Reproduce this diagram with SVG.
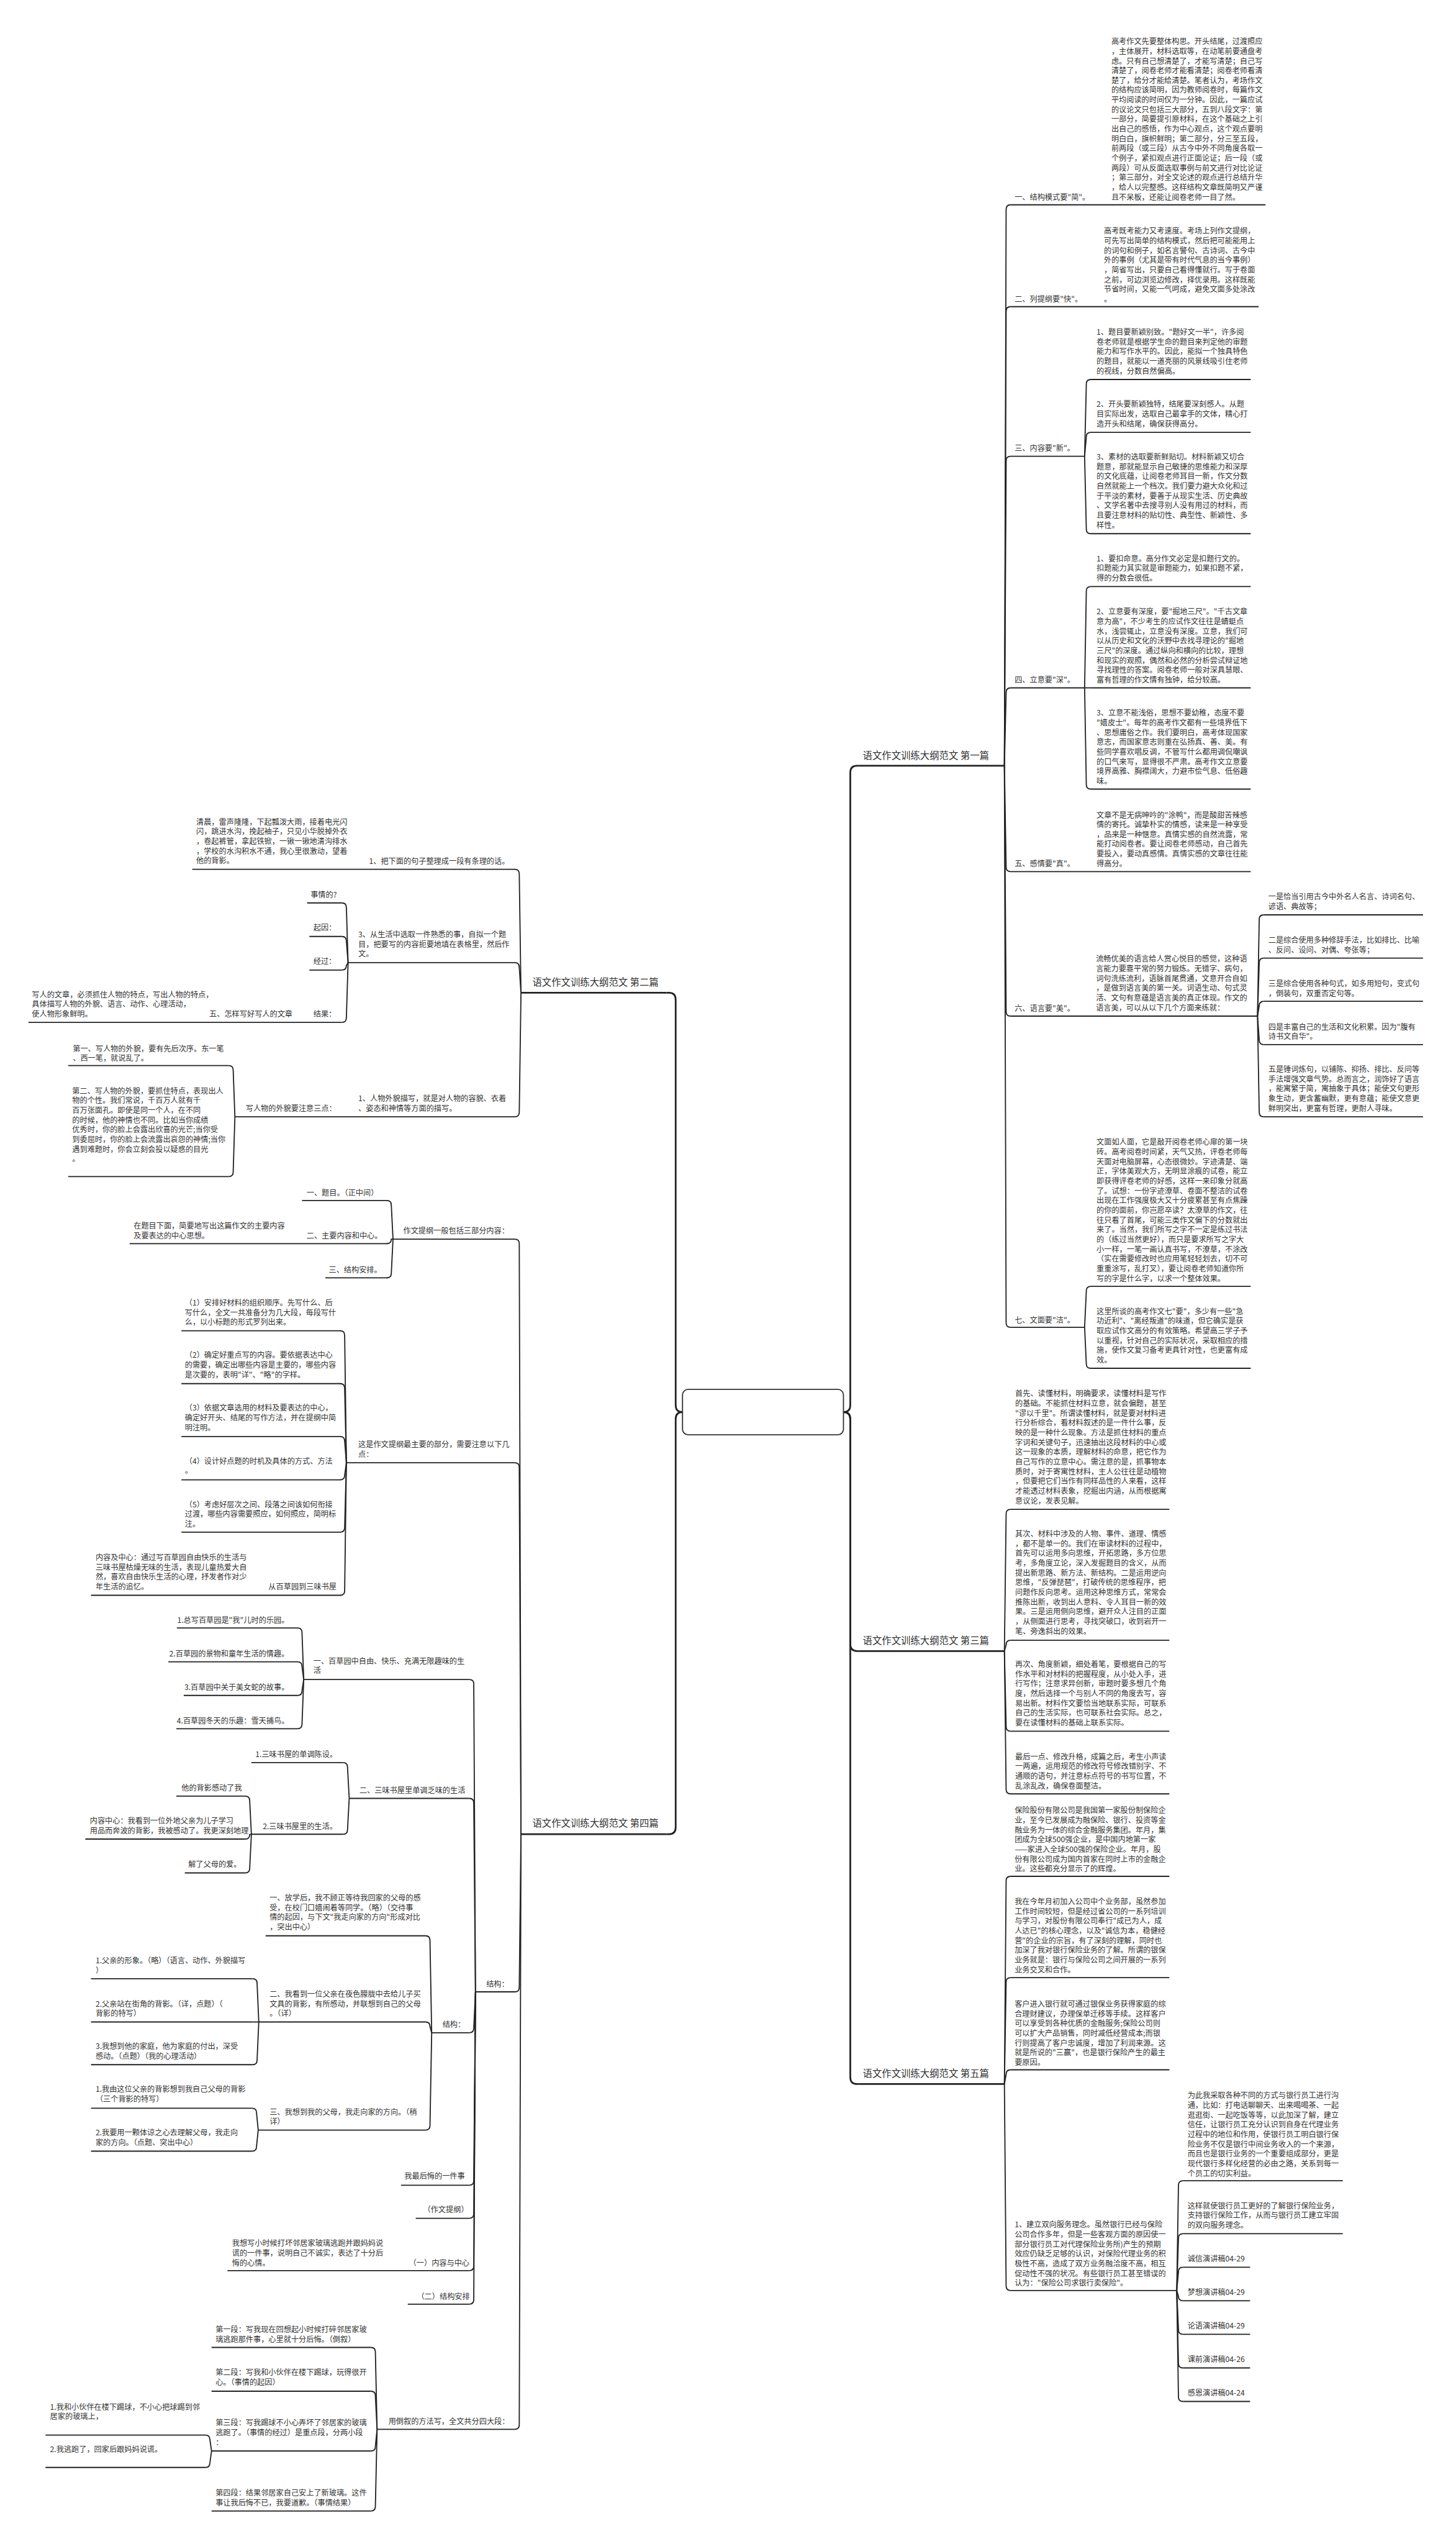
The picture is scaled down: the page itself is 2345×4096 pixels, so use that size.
<svg xmlns="http://www.w3.org/2000/svg" width="2345" height="4096" viewBox="0 0 2345 4096">
<style>
.t{font-family:"Noto Sans CJK SC","Liberation Sans",sans-serif;font-size:13.3px;fill:#333}
.h{font-size:16.8px}
.e{text-anchor:end}
.c{fill:none;stroke:#222;stroke-width:2}
.m{stroke-width:3}
</style>
<rect width="2345" height="4096" fill="#fff"/>
<g transform="scale(0.91602)">
<g id="connectors">
<path class="c m" d="M1483 2482 Q1495 2482 1495 2470 V1358 Q1495 1346 1507 1346 H1510"/>
<path class="c m" d="M1483 2482 Q1495 2482 1495 2494 V2890 Q1495 2902 1507 2902 H1510"/>
<path class="c m" d="M1483 2482 Q1495 2482 1495 2494 V3651 Q1495 3663 1507 3663 H1510"/>
<path class="c m" d="M1200 2482 Q1188 2482 1188 2470 V1757 Q1188 1745 1176 1745 H1172"/>
<path class="c m" d="M1200 2482 Q1188 2482 1188 2494 V3212 Q1188 3224 1176 3224 H1172"/>
<path class="c" d="M1766 1346 L1769 368 Q1769 360 1777 360"/>
<path class="c" d="M1766 1346 L1769 547 Q1769 539 1777 539"/>
<path class="c" d="M1766 1346 L1769 810 Q1769 802 1777 802"/>
<path class="c" d="M1766 1346 L1769 1217 Q1769 1209 1777 1209"/>
<path class="c" d="M1766 1346 L1769 1524 Q1769 1532 1777 1532"/>
<path class="c" d="M1766 1346 L1769 1778 Q1769 1786 1777 1786"/>
<path class="c" d="M1766 1346 L1769 2325 Q1769 2333 1777 2333"/>
<path class="c" d="M1907 802 L1910 675 Q1910 667 1918 667"/>
<path class="c" d="M1907 802 L1910 768 Q1910 760 1918 760"/>
<path class="c" d="M1907 802 L1910 930 Q1910 938 1918 938"/>
<path class="c" d="M1907 1209 L1910 1039 Q1910 1031 1918 1031"/>
<path class="c" d="M1907 1209 H1918"/>
<path class="c" d="M1907 1209 L1910 1379 Q1910 1387 1918 1387"/>
<path class="c" d="M2211 1786 L2214 1616 Q2214 1608 2222 1608"/>
<path class="c" d="M2211 1786 L2214 1692 Q2214 1684 2222 1684"/>
<path class="c" d="M2211 1786 L2214 1768 Q2214 1760 2222 1760"/>
<path class="c" d="M2211 1786 L2214 1828 Q2214 1836 2222 1836"/>
<path class="c" d="M2211 1786 L2214 1955 Q2214 1963 2222 1963"/>
<path class="c" d="M1907 2333 L1910 2269 Q1910 2261 1918 2261"/>
<path class="c" d="M1907 2333 L1910 2397 Q1910 2405 1918 2405"/>
<path class="c" d="M1766 2902 L1769 2661 Q1769 2653 1777 2653"/>
<path class="c" d="M1766 2902 L1769 2891 Q1769 2883 1777 2883"/>
<path class="c" d="M1766 2902 L1769 3035 Q1769 3043 1777 3043"/>
<path class="c" d="M1766 2902 L1769 3145 Q1769 3153 1777 3153"/>
<path class="c" d="M1766 3663 L1769 3306 Q1769 3298 1777 3298"/>
<path class="c" d="M1766 3663 L1769 3484 Q1769 3476 1777 3476"/>
<path class="c" d="M1766 3663 L1769 3646 Q1769 3638 1777 3638"/>
<path class="c" d="M1766 3663 L1769 4018 Q1769 4026 1777 4026"/>
<path class="c" d="M2069 4026 L2072 3841 Q2072 3833 2080 3833"/>
<path class="c" d="M2069 4026 L2072 3934 Q2072 3926 2080 3926"/>
<path class="c" d="M2069 4026 L2072 3993 Q2072 3985 2080 3985"/>
<path class="c" d="M2069 4026 L2072 4036 Q2072 4044 2080 4044"/>
<path class="c" d="M2069 4026 L2072 4095 Q2072 4103 2080 4103"/>
<path class="c" d="M2069 4026 L2072 4154 Q2072 4162 2080 4162"/>
<path class="c" d="M2069 4026 L2072 4213 Q2072 4221 2080 4221"/>
<path class="c" d="M916 1745 L913 1536 Q913 1528 905 1528"/>
<path class="c" d="M916 1745 L913 1700 Q913 1692 905 1692"/>
<path class="c" d="M916 1745 L913 1955 Q913 1963 905 1963"/>
<path class="c" d="M612 1692 L609 1595 Q609 1587 601 1587"/>
<path class="c" d="M612 1692 L609 1654 Q609 1646 601 1646"/>
<path class="c" d="M612 1692 L609 1697 Q609 1705 601 1705"/>
<path class="c" d="M612 1692 L609 1789 Q609 1797 601 1797"/>
<path class="c" d="M413 1963 L410 1881 Q410 1873 402 1873"/>
<path class="c" d="M413 1963 L410 2060 Q410 2068 402 2068"/>
<path class="c" d="M916 3224 L913 2186 Q913 2178 905 2178"/>
<path class="c" d="M916 3224 L913 2579 Q913 2571 905 2571"/>
<path class="c" d="M916 3224 L913 3493 Q913 3501 905 3501"/>
<path class="c" d="M916 3224 L913 4262 Q913 4270 905 4270"/>
<path class="c" d="M691 2178 L688 2118 Q688 2110 680 2110"/>
<path class="c" d="M691 2178 L688 2178 Q688 2186 680 2186"/>
<path class="c" d="M691 2178 L688 2238 Q688 2246 680 2246"/>
<path class="c" d="M609 2571 L606 2347 Q606 2339 598 2339"/>
<path class="c" d="M609 2571 L606 2440 Q606 2432 598 2432"/>
<path class="c" d="M609 2571 L606 2533 Q606 2525 598 2525"/>
<path class="c" d="M609 2571 L606 2593 Q606 2601 598 2601"/>
<path class="c" d="M609 2571 L606 2685 Q606 2693 598 2693"/>
<path class="c" d="M609 2571 L606 2796 Q606 2804 598 2804"/>
<path class="c" d="M836 3501 L833 2960 Q833 2952 825 2952"/>
<path class="c" d="M836 3501 L833 3169 Q833 3161 825 3161"/>
<path class="c" d="M836 3501 L833 3565 Q833 3573 825 3573"/>
<path class="c" d="M836 3501 L833 3833 Q833 3841 825 3841"/>
<path class="c" d="M836 3501 L833 3891 Q833 3899 825 3899"/>
<path class="c" d="M836 3501 L833 3983 Q833 3991 825 3991"/>
<path class="c" d="M836 3501 L833 4042 Q833 4050 825 4050"/>
<path class="c" d="M534 2952 L531 2869.5 Q531 2861.5 523 2861.5"/>
<path class="c" d="M534 2952 L531 2929 Q531 2921 523 2921"/>
<path class="c" d="M534 2952 L531 2972 Q531 2980 523 2980"/>
<path class="c" d="M534 2952 L531 3030.5 Q531 3038.5 523 3038.5"/>
<path class="c" d="M614 3161 L611 3106 Q611 3098 603 3098"/>
<path class="c" d="M614 3161 L611 3216 Q611 3224 603 3224"/>
<path class="c" d="M442 3224 L439 3165 Q439 3157 431 3157"/>
<path class="c" d="M442 3224 L439 3224.5 Q439 3232.5 431 3232.5"/>
<path class="c" d="M442 3224 L439 3284 Q439 3292 431 3292"/>
<path class="c" d="M759 3573 L756 3410.5 Q756 3402.5 748 3402.5"/>
<path class="c" d="M759 3573 L756 3562 Q756 3554 748 3554"/>
<path class="c" d="M759 3573 L756 3736 Q756 3744 748 3744"/>
<path class="c" d="M455 3554 L452 3486 Q452 3478 444 3478"/>
<path class="c" d="M455 3554 H444"/>
<path class="c" d="M455 3554 L452 3621 Q452 3629 444 3629"/>
<path class="c" d="M454 3744 L451 3713.5 Q451 3705.5 443 3705.5"/>
<path class="c" d="M454 3744 L451 3773 Q451 3781 443 3781"/>
<path class="c" d="M663 4270 L660 4134 Q660 4126 652 4126"/>
<path class="c" d="M663 4270 L660 4211 Q660 4203 652 4203"/>
<path class="c" d="M663 4270 L660 4300 Q660 4308 652 4308"/>
<path class="c" d="M663 4270 L660 4405.5 Q660 4413.5 652 4413.5"/>
<path class="c" d="M372 4308 L369 4288 Q369 4280 361 4280"/>
<path class="c" d="M372 4308 L369 4329 Q369 4337 361 4337"/>
</g>

<g id="center"><rect x="1200" y="2442" width="283" height="80" rx="10" fill="#fff" stroke="#333" stroke-width="2"/></g>

<g id="p1">
<path class="c m" d="M1510 1346 H1766"/>
<text class="t h" x="1517" y="1334">语文作文训练大纲范文 第一篇</text>
</g>
<g id="p1-1">
<path class="c" d="M1777 360 H2225"/>
<text class="t" x="1784" y="352">一、结构模式要"简"。</text>
<text class="t"><tspan x="1954" y="77.7">高考作文先要整体构思。开头结尾，过渡照应</tspan><tspan x="1954" dy="17.1">，主体展开，材料选取等，在动笔前要通盘考</tspan><tspan x="1954" dy="17.1">虑。只有自己想清楚了，才能写清楚；自己写</tspan><tspan x="1954" dy="17.1">清楚了，阅卷老师才能看清楚；阅卷老师看清</tspan><tspan x="1954" dy="17.1">楚了，给分才能给清楚。笔者认为，考场作文</tspan><tspan x="1954" dy="17.1">的结构应该简明，因为教师阅卷时，每篇作文</tspan><tspan x="1954" dy="17.1">平均阅读的时间仅为一分钟。因此，一篇应试</tspan><tspan x="1954" dy="17.1">的议论文只包括三大部分，五到八段文字：第</tspan><tspan x="1954" dy="17.1">一部分，简要提引原材料，在这个基础之上引</tspan><tspan x="1954" dy="17.1">出自己的感悟，作为中心观点，这个观点要明</tspan><tspan x="1954" dy="17.1">明白白，旗帜鲜明；第二部分，分三至五段，</tspan><tspan x="1954" dy="17.1">前两段（或三段）从古今中外不同角度各取一</tspan><tspan x="1954" dy="17.1">个例子，紧扣观点进行正面论证；后一段（或</tspan><tspan x="1954" dy="17.1">两段）可从反面选取事例与前文进行对比论证</tspan><tspan x="1954" dy="17.1">；第三部分，对全文论述的观点进行总结升华</tspan><tspan x="1954" dy="17.1">，给人以完整感。这样结构文章既简明又严谨</tspan><tspan x="1954" dy="17.1">且不呆板，还能让阅卷老师一目了然。</tspan></text>
</g>
<g id="p1-2">
<path class="c" d="M1777 539 H2213"/>
<text class="t" x="1784" y="531">二、列提纲要"快"。</text>
<text class="t"><tspan x="1941" y="411">高考既考能力又考速度。考场上列作文提纲，</tspan><tspan x="1941" dy="17.1">可先写出简单的结构模式，然后把可能能用上</tspan><tspan x="1941" dy="17.1">的词句和例子，如名言警句、古诗词、古今中</tspan><tspan x="1941" dy="17.1">外的事例（尤其是带有时代气息的当今事例）</tspan><tspan x="1941" dy="17.1">，简省写出，只要自己看得懂就行。写于卷面</tspan><tspan x="1941" dy="17.1">之前，可边浏览边修改，择优录用。这样既能</tspan><tspan x="1941" dy="17.1">节省时间，又能一气呵成，避免文面多处涂改</tspan><tspan x="1941" dy="17.1">。</tspan></text>
</g>
<g id="p1-3">
<path class="c" d="M1777 802 H1907"/>
<text class="t" x="1784" y="793">三、内容要"新"。</text>
<path class="c" d="M1918 667 H2199"/>
<text class="t"><tspan x="1928" y="588.3">1、题目要新颖别致。"题好文一半"，许多阅</tspan><tspan x="1928" dy="17.1">卷老师就是根据学生命的题目来判定他的审题</tspan><tspan x="1928" dy="17.1">能力和写作水平的。因此，能拟一个独具特色</tspan><tspan x="1928" dy="17.1">的题目，就能以一道亮丽的风景线吸引住老师</tspan><tspan x="1928" dy="17.1">的视线，分数自然偏高。</tspan></text>
<path class="c" d="M1918 760 H2199"/>
<text class="t"><tspan x="1928" y="715.5">2、开头要新颖独特，结尾要深刻感人。从题</tspan><tspan x="1928" dy="17.1">目实际出发，选取自己最拿手的文体，精心打</tspan><tspan x="1928" dy="17.1">造开头和结尾，确保获得高分。</tspan></text>
<path class="c" d="M1918 938 H2199"/>
<text class="t"><tspan x="1928" y="808">3、素材的选取要新鲜贴切。材料新颖又切合</tspan><tspan x="1928" dy="17.1">题意，那就能显示自己敏捷的思维能力和深厚</tspan><tspan x="1928" dy="17.1">的文化底蕴，让阅卷老师耳目一新，作文分数</tspan><tspan x="1928" dy="17.1">自然就能上一个档次。我们要力避大众化和过</tspan><tspan x="1928" dy="17.1">于平淡的素材，要善于从现实生活、历史典故</tspan><tspan x="1928" dy="17.1">、文学名著中去搜寻别人没有用过的材料，而</tspan><tspan x="1928" dy="17.1">且要注意材料的贴切性、典型性、新颖性、多</tspan><tspan x="1928" dy="17.1">样性。</tspan></text>
</g>
<g id="p1-4">
<path class="c" d="M1777 1209 H1907"/>
<text class="t" x="1784" y="1200">四、立意要"深"。</text>
<path class="c" d="M1918 1031 H2199"/>
<text class="t"><tspan x="1928" y="986.5">1、要扣命意。高分作文必定是扣题行文的。</tspan><tspan x="1928" dy="17.1">扣题能力其实就是审题能力，如果扣题不紧，</tspan><tspan x="1928" dy="17.1">得的分数会很低。</tspan></text>
<path class="c" d="M1918 1209 H2199"/>
<text class="t"><tspan x="1928" y="1080">2、立意要有深度，要"掘地三尺"。"千古文章</tspan><tspan x="1928" dy="17.1">意为高"，不少考生的应试作文往往是蜻蜓点</tspan><tspan x="1928" dy="17.1">水，浅尝辄止，立意没有深度。立意，我们可</tspan><tspan x="1928" dy="17.1">以从历史和文化的沃野中去找寻理论的"掘地</tspan><tspan x="1928" dy="17.1">三尺"的深度。通过纵向和横向的比较，理想</tspan><tspan x="1928" dy="17.1">和现实的观照，偶然和必然的分析尝试辩证地</tspan><tspan x="1928" dy="17.1">寻找理性的答案。阅卷老师一般对深具慧眼、</tspan><tspan x="1928" dy="17.1">富有哲理的作文情有独钟，给分较高。</tspan></text>
<path class="c" d="M1918 1387 H2199"/>
<text class="t"><tspan x="1928" y="1258">3、立意不能浅俗，思想不要幼稚，态度不要</tspan><tspan x="1928" dy="17.1">"嬉皮士"。每年的高考作文都有一些境界低下</tspan><tspan x="1928" dy="17.1">、思想庸俗之作。我们要明白，高考体现国家</tspan><tspan x="1928" dy="17.1">意志，而国家意志则重在弘扬真、善、美。有</tspan><tspan x="1928" dy="17.1">些同学喜欢唱反调，不管写什么都用调侃嘲讽</tspan><tspan x="1928" dy="17.1">的口气来写，显得很不严肃。高考作文立意要</tspan><tspan x="1928" dy="17.1">境界高雅、胸襟阔大，力避市侩气息、低俗趣</tspan><tspan x="1928" dy="17.1">味。</tspan></text>
</g>
<g id="p1-5">
<path class="c" d="M1777 1532 H2199"/>
<text class="t" x="1784" y="1523">五、感情要"真"。</text>
<text class="t"><tspan x="1928" y="1437.2">文章不是无病呻吟的"涂鸭"，而是酸甜苦辣感</tspan><tspan x="1928" dy="17.1">情的寄托。诚挚朴实的情感，读来是一种享受</tspan><tspan x="1928" dy="17.1">，品来是一种惬意。真情实感的自然流露，常</tspan><tspan x="1928" dy="17.1">能打动阅卷者。要让阅卷老师感动，自己首先</tspan><tspan x="1928" dy="17.1">要投入，要动真感情。真情实感的文章往往能</tspan><tspan x="1928" dy="17.1">得高分。</tspan></text>
</g>
<g id="p1-6">
<path class="c" d="M1777 1786 H2211"/>
<text class="t" x="1784" y="1777">六、语言要"美"。</text>
<text class="t"><tspan x="1927" y="1690.2">流畅优美的语言给人赏心悦目的感觉，这种语</tspan><tspan x="1927" dy="17.1">言能力要靠平常的努力锻炼。无错字、病句，</tspan><tspan x="1927" dy="17.1">词句洗练流利，语脉首尾贯通，文意开合自如</tspan><tspan x="1927" dy="17.1">，是做到语言美的第一关。词语生动、句式灵</tspan><tspan x="1927" dy="17.1">活、文句有意蕴是语言美的真正体现。作文的</tspan><tspan x="1927" dy="17.1">语言美，可以从以下几个方面来练就：</tspan></text>
<path class="c" d="M2222 1608 H2502"/>
<text class="t"><tspan x="2230" y="1580.6">一是恰当引用古今中外名人名言、诗词名句、</tspan><tspan x="2230" dy="17.1">谚语、典故等；</tspan></text>
<path class="c" d="M2222 1684 H2502"/>
<text class="t"><tspan x="2230" y="1657.6">二是综合使用多种修辞手法，比如排比、比喻</tspan><tspan x="2230" dy="17.1">、反问、设问、对偶、夸张等；</tspan></text>
<path class="c" d="M2222 1760 H2502"/>
<text class="t"><tspan x="2230" y="1733.6">三是综合使用各种句式，如多用短句，变式句</tspan><tspan x="2230" dy="17.1">，倒装句，双重否定句等。</tspan></text>
<path class="c" d="M2222 1836 H2502"/>
<text class="t"><tspan x="2230" y="1809.6">四是丰富自己的生活和文化积累。因为"腹有</tspan><tspan x="2230" dy="17.1">诗书文自华"。</tspan></text>
<path class="c" d="M2222 1963 H2502"/>
<text class="t"><tspan x="2230" y="1884.3">五是锤词炼句，以铺陈、抑扬、排比、反问等</tspan><tspan x="2230" dy="17.1">手法增强文章气势。总而言之，润饰好了语言</tspan><tspan x="2230" dy="17.1">，能寓繁于简，寓抽象于具体；能使文句更形</tspan><tspan x="2230" dy="17.1">象生动，更含蓄幽默，更有意蕴；能使文意更</tspan><tspan x="2230" dy="17.1">鲜明突出，更富有哲理，更耐人寻味。</tspan></text>
</g>
<g id="p1-7">
<path class="c" d="M1777 2333 H1907"/>
<text class="t" x="1784" y="2325">七、文面要"洁"。</text>
<path class="c" d="M1918 2261 H2199"/>
<text class="t"><tspan x="1928" y="2012.3">文面如人面，它是敲开阅卷老师心扉的第一块</tspan><tspan x="1928" dy="17.1">砖。高考阅卷时间紧，天气又热，评卷老师每</tspan><tspan x="1928" dy="17.1">天面对电脑屏幕，心态很微妙。字迹清楚、端</tspan><tspan x="1928" dy="17.1">正，字体美观大方，无明显涂痕的试卷，能立</tspan><tspan x="1928" dy="17.1">即获得评卷老师的好感，这样一来印象分就高</tspan><tspan x="1928" dy="17.1">了。试想：一份字迹潦草、卷面不整洁的试卷</tspan><tspan x="1928" dy="17.1">出现在工作强度极大又十分疲累甚至有点焦躁</tspan><tspan x="1928" dy="17.1">的你的面前，你岂愿卒读？太潦草的作文，往</tspan><tspan x="1928" dy="17.1">往只看了首尾，可能三类作文偏下的分数就出</tspan><tspan x="1928" dy="17.1">来了。当然，我们所写之字不一定是练过书法</tspan><tspan x="1928" dy="17.1">的（练过当然更好），而只是要求所写之字大</tspan><tspan x="1928" dy="17.1">小一样，一笔一画认真书写，不潦草，不涂改</tspan><tspan x="1928" dy="17.1">（实在需要修改时也应用笔轻轻划去，切不可</tspan><tspan x="1928" dy="17.1">重重涂写，乱打叉），要让阅卷老师知道你所</tspan><tspan x="1928" dy="17.1">写的字是什么字，以求一个整体效果。</tspan></text>
<path class="c" d="M1918 2405 H2199"/>
<text class="t"><tspan x="1928" y="2309.7">这里所谈的高考作文七"要"，多少有一些"急</tspan><tspan x="1928" dy="17.1">功近利"、"离经叛道"的味道，但它确实是获</tspan><tspan x="1928" dy="17.1">取应试作文高分的有效策略。希望高三学子予</tspan><tspan x="1928" dy="17.1">以重视，针对自己的实际状况，采取相应的措</tspan><tspan x="1928" dy="17.1">施，使作文复习备考更具针对性，也更富有成</tspan><tspan x="1928" dy="17.1">效。</tspan></text>
</g>

<g id="p3">
<path class="c m" d="M1510 2902 H1766"/>
<text class="t h" x="1517" y="2890">语文作文训练大纲范文 第三篇</text>
<path class="c" d="M1777 2653 H2056"/>
<text class="t"><tspan x="1785" y="2454.6">首先、读懂材料，明确要求，读懂材料是写作</tspan><tspan x="1785" dy="17.1">的基础。不能抓住材料立意，就会偏题，甚至</tspan><tspan x="1785" dy="17.1">"谬以千里"。所谓读懂材料，就是要对材料进</tspan><tspan x="1785" dy="17.1">行分析综合，看材料叙述的是一件什么事，反</tspan><tspan x="1785" dy="17.1">映的是一种什么现象。方法是抓住材料的重点</tspan><tspan x="1785" dy="17.1">字词和关键句子，迅速抽出这段材料的中心或</tspan><tspan x="1785" dy="17.1">这一现象的本质，理解材料的命意，把它作为</tspan><tspan x="1785" dy="17.1">自己写作的立意中心。需注意的是，抓事物本</tspan><tspan x="1785" dy="17.1">质时，对于寄寓性材料，主人公往往是动植物</tspan><tspan x="1785" dy="17.1">，但要把它们当作有同样品性的人来看，这样</tspan><tspan x="1785" dy="17.1">才能透过材料表象，挖掘出内涵，从而根据寓</tspan><tspan x="1785" dy="17.1">意议论，发表见解。</tspan></text>
<path class="c" d="M1777 2883 H2056"/>
<text class="t"><tspan x="1785" y="2700.7">其次、材料中涉及的人物、事件、道理、情感</tspan><tspan x="1785" dy="17.1">，都不是单一的。我们在审读材料的过程中，</tspan><tspan x="1785" dy="17.1">首先可以运用多向思维，开拓思路，多方位思</tspan><tspan x="1785" dy="17.1">考，多角度立论，深入发掘题目的含义，从而</tspan><tspan x="1785" dy="17.1">提出新思路、新方法、新结构。二是运用逆向</tspan><tspan x="1785" dy="17.1">思维，"反弹琵琶"，打破传统的思维程序，把</tspan><tspan x="1785" dy="17.1">问题作反向思考。运用这种思维方式，常常会</tspan><tspan x="1785" dy="17.1">推陈出新，收到出人意料、令人耳目一新的效</tspan><tspan x="1785" dy="17.1">果。三是运用侧向思维，避开众人注目的正面</tspan><tspan x="1785" dy="17.1">，从侧面进行思考，寻找突破口，收到岩开一</tspan><tspan x="1785" dy="17.1">笔、旁逸斜出的效果。</tspan></text>
<path class="c" d="M1777 3043 H2056"/>
<text class="t"><tspan x="1785" y="2930.1">再次、角度新颖，细处着笔，要根据自己的写</tspan><tspan x="1785" dy="17.1">作水平和对材料的把握程度，从小处入手，进</tspan><tspan x="1785" dy="17.1">行写作；注意求异创新，审题时要多想几个角</tspan><tspan x="1785" dy="17.1">度，然后选择一个与别人不同的角度去写，容</tspan><tspan x="1785" dy="17.1">易出新。材料作文要恰当地联系实际，可联系</tspan><tspan x="1785" dy="17.1">自己的生活实际，也可联系社会实际。总之，</tspan><tspan x="1785" dy="17.1">要在读懂材料的基础上联系实际。</tspan></text>
<path class="c" d="M1777 3153 H2056"/>
<text class="t"><tspan x="1785" y="3092.4">最后一点、修改升格，成篇之后，考生小声读</tspan><tspan x="1785" dy="17.1">一两遍，运用规范的修改符号修改错别字、不</tspan><tspan x="1785" dy="17.1">通顺的语句，并注意标点符号的书写位置，不</tspan><tspan x="1785" dy="17.1">乱涂乱改，确保卷面整洁。</tspan></text>
</g>

<g id="p5">
<path class="c m" d="M1510 3663 H1766"/>
<text class="t h" x="1517" y="3651">语文作文训练大纲范文 第五篇</text>
<path class="c" d="M1777 3298 H2056"/>
<text class="t"><tspan x="1784" y="3187.1">保险股份有限公司是我国第一家股份制保险企</tspan><tspan x="1784" dy="17.1">业，至今已发展成为融保险、银行、投资等金</tspan><tspan x="1784" dy="17.1">融业务为一体的综合金融服务集团。年月，集</tspan><tspan x="1784" dy="17.1">团成为全球500强企业，是中国内地第一家</tspan><tspan x="1784" dy="17.1">——家进入全球500强的保险企业。年月，股</tspan><tspan x="1784" dy="17.1">份有限公司成为国内首家在同时上市的金融企</tspan><tspan x="1784" dy="17.1">业。这些都充分显示了的辉煌。</tspan></text>
<path class="c" d="M1777 3476 H2056"/>
<text class="t"><tspan x="1784" y="3347">我在今年月初加入公司中个业务部，虽然参加</tspan><tspan x="1784" dy="17.1">工作时间较短，但是经过省公司的一系列培训</tspan><tspan x="1784" dy="17.1">与学习，对股份有限公司奉行"成已为人，成</tspan><tspan x="1784" dy="17.1">人达已"的核心理念，以及"诚信为本，稳健经</tspan><tspan x="1784" dy="17.1">营"的企业的宗旨，有了深刻的理解，同时也</tspan><tspan x="1784" dy="17.1">加深了我对银行保险业务的了解。所谓的银保</tspan><tspan x="1784" dy="17.1">业务就是：银行与保险公司之间开展的一系列</tspan><tspan x="1784" dy="17.1">业务交叉和合作。</tspan></text>
<path class="c" d="M1777 3638 H2056"/>
<text class="t"><tspan x="1784" y="3527.1">客户进入银行就可通过银保业务获得家庭的综</tspan><tspan x="1784" dy="17.1">合理财建议，办理保单迁移等手续。这样客户</tspan><tspan x="1784" dy="17.1">可以享受到各种优质的金融服务;保险公司则</tspan><tspan x="1784" dy="17.1">可以扩大产品销售，同时减低经营成本;而银</tspan><tspan x="1784" dy="17.1">行则提高了客户忠诚度，增加了利润来源。这</tspan><tspan x="1784" dy="17.1">就是所说的"三赢"，也是银行保险产生的最主</tspan><tspan x="1784" dy="17.1">要原因。</tspan></text>
<path class="c" d="M1777 4026 H2069"/>
<text class="t"><tspan x="1784" y="3915.1">1、建立双向服务理念。虽然银行已经与保险</tspan><tspan x="1784" dy="17.1">公司合作多年，但是一些客观方面的原因使一</tspan><tspan x="1784" dy="17.1">部分银行员工对代理保险业务所)产生的预期</tspan><tspan x="1784" dy="17.1">效应仍缺乏足够的认识，对保险代理业务的积</tspan><tspan x="1784" dy="17.1">极性不高，造成了双方业务融洽度不高，相互</tspan><tspan x="1784" dy="17.1">促动性不强的状况。有些银行员工甚至错误的</tspan><tspan x="1784" dy="17.1">认为："保险公司求银行卖保险"。</tspan></text>
<path class="c" d="M2080 3833 H2361"/>
<text class="t"><tspan x="2088" y="3687.9">为此我采取各种不同的方式与银行员工进行沟</tspan><tspan x="2088" dy="17.1">通，比如：打电话聊聊天、出来喝喝茶、一起</tspan><tspan x="2088" dy="17.1">逛逛街、一起吃饭等等，以此加深了解，建立</tspan><tspan x="2088" dy="17.1">信任，让银行员工充分认识到自身在代理业务</tspan><tspan x="2088" dy="17.1">过程中的地位和作用，使银行员工明白银行保</tspan><tspan x="2088" dy="17.1">险业务不仅是银行中间业务收入的一个来源，</tspan><tspan x="2088" dy="17.1">而且也是银行业务的一个重要组成部分，更是</tspan><tspan x="2088" dy="17.1">现代银行多样化经营的必由之路，关系到每一</tspan><tspan x="2088" dy="17.1">个员工的切实利益。</tspan></text>
<path class="c" d="M2080 3926 H2361"/>
<text class="t"><tspan x="2088" y="3881.5">这样就使银行员工更好的了解银行保险业务，</tspan><tspan x="2088" dy="17.1">支持银行保险工作，从而与银行员工建立牢固</tspan><tspan x="2088" dy="17.1">的双向服务理念。</tspan></text>
<path class="c" d="M2080 3985 H2198"/><text class="t" x="2088" y="3975">诚信演讲稿04-29</text>
<path class="c" d="M2080 4044 H2198"/><text class="t" x="2088" y="4034">梦想演讲稿04-29</text>
<path class="c" d="M2080 4103 H2198"/><text class="t" x="2088" y="4093">论语演讲稿04-29</text>
<path class="c" d="M2080 4162 H2198"/><text class="t" x="2088" y="4152">课前演讲稿04-26</text>
<path class="c" d="M2080 4221 H2198"/><text class="t" x="2088" y="4211">感恩演讲稿04-24</text>
</g>

<g id="p2">
<path class="c m" d="M916 1745 H1172"/>
<text class="t h" x="936" y="1732">语文作文训练大纲范文 第二篇</text>
<path class="c" d="M338 1528 H905"/>
<text class="t" x="649" y="1518">1、把下面的句子整理成一段有条理的话。</text>
<text class="t"><tspan x="345" y="1449.3">清晨，雷声隆隆，下起瓢泼大雨，接着电光闪</tspan><tspan x="345" dy="17.1">闪，跳进水沟，挽起袖子，只见小华脱掉外衣</tspan><tspan x="345" dy="17.1">，卷起裤管，拿起铁锨，一锹一锹地清沟排水</tspan><tspan x="345" dy="17.1">，学校的水沟积水不通，我心里很激动，望着</tspan><tspan x="345" dy="17.1">他的背影。</tspan></text>
<path class="c" d="M612 1692 H905"/>
<text class="t"><tspan x="630" y="1647.5">3、从生活中选取一件熟悉的事，自拟一个题</tspan><tspan x="630" dy="17.1">目，把要写的内容扼要地填在表格里，然后作</tspan><tspan x="630" dy="17.1">文。</tspan></text>
<path class="c" d="M540 1587 H601"/><text class="t" x="546" y="1577">事情的?</text>
<path class="c" d="M544 1646 H601"/><text class="t" x="551" y="1635">起因：</text>
<path class="c" d="M544 1705 H601"/><text class="t" x="551" y="1694">经过：</text>
<path class="c" d="M50 1797 H601"/><text class="t" x="551" y="1787">结果：</text>
<text class="t" x="368" y="1787">五、怎样写好写人的文章</text>
<text class="t"><tspan x="56" y="1752.7">写人的文章，必须抓住人物的特点，写出人物的特点，</tspan><tspan x="56" dy="17.1">具体描写人物的外貌、语言、动作、心理活动，</tspan><tspan x="56" dy="17.1">使人物形象鲜明。</tspan></text>
<path class="c" d="M413 1963 H905"/>
<text class="t"><tspan x="630" y="1935.6">1、人物外貌描写，就是对人物的容貌、衣着</tspan><tspan x="630" dy="17.1">、姿态和神情等方面的描写。</tspan></text>
<text class="t" x="432" y="1953">写人物的外貌要注意三点：</text>
<path class="c" d="M120 1873 H402"/>
<text class="t"><tspan x="128" y="1847.9">第一、写人物的外貌，要有先后次序。东一笔</tspan><tspan x="128" dy="17.1">、西一笔，就说乱了。</tspan></text>
<path class="c" d="M120 2068 H402"/>
<text class="t"><tspan x="127" y="1922.2">第二、写人物的外貌，要抓住特点，表现出人</tspan><tspan x="127" dy="17.1">物的个性。我们常说，千百万人就有千</tspan><tspan x="127" dy="17.1">百万张面孔。即使是同一个人，在不同</tspan><tspan x="127" dy="17.1">的时候，他的神情也不同。比如当你成绩</tspan><tspan x="127" dy="17.1">优秀时，你的脸上会露出欣喜的光芒;当你受</tspan><tspan x="127" dy="17.1">到委屈时，你的脸上会流露出哀怨的神情;当你</tspan><tspan x="127" dy="17.1">遇到难题时，你会立刻会投以疑惑的目光</tspan><tspan x="127" dy="17.1">。</tspan></text>
</g>

<g id="p4">
<path class="c m" d="M916 3224 H1172"/>
<text class="t h" x="936" y="3211">语文作文训练大纲范文 第四篇</text>
<path class="c" d="M691 2178 H905"/>
<text class="t" x="709" y="2168">作文提纲一般包括三部分内容：</text>
<path class="c" d="M531 2110 H682"/><text class="t" x="539" y="2101">一、题目。（正中间）</text>
<path class="c" d="M228 2186 H682"/><text class="t" x="539" y="2177">二、主要内容和中心。</text>
<text class="t"><tspan x="235" y="2159.2">在题目下面，简要地写出这篇作文的主要内容</tspan><tspan x="235" dy="17.1">及要表达的中心思想。</tspan></text>
<path class="c" d="M572 2246 H682"/><text class="t" x="578" y="2237">三、结构安排。</text>
<path class="c" d="M609 2571 H905"/>
<text class="t"><tspan x="630" y="2543.7">这是作文提纲最主要的部分，需要注意以下几</tspan><tspan x="630" dy="17.1">点：</tspan></text>
<path class="c" d="M319 2339 H599"/>
<text class="t"><tspan x="325" y="2294.7">（1）安排好材料的组织顺序。先写什么、后</tspan><tspan x="325" dy="17.1">写什么，全文一共准备分为几大段，每段写什</tspan><tspan x="325" dy="17.1">么，以小标题的形式罗列出来。</tspan></text>
<path class="c" d="M319 2432 H599"/>
<text class="t"><tspan x="325" y="2386.7">（2）确定好重点写的内容。要依据表达中心</tspan><tspan x="325" dy="17.1">的需要，确定出哪些内容是主要的，哪些内容</tspan><tspan x="325" dy="17.1">是次要的，表明"详"、"略"的字样。</tspan></text>
<path class="c" d="M319 2525 H599"/>
<text class="t"><tspan x="325" y="2479.7">（3）依据文章选用的材料及要表达的中心，</tspan><tspan x="325" dy="17.1">确定好开头、结尾的写作方法，并在提纲中简</tspan><tspan x="325" dy="17.1">明注明。</tspan></text>
<path class="c" d="M319 2601 H599"/>
<text class="t"><tspan x="325" y="2572.7">（4）设计好点题的时机及具体的方式、方法</tspan><tspan x="325" dy="17.1">。</tspan></text>
<path class="c" d="M319 2693 H599"/>
<text class="t"><tspan x="325" y="2649.3">（5）考虑好层次之间、段落之间该如何衔接</tspan><tspan x="325" dy="17.1">过渡，哪些内容需要照应，如何照应，简明标</tspan><tspan x="325" dy="17.1">注。</tspan></text>
<path class="c" d="M160 2804 H599"/>
<text class="t" x="472" y="2794">从百草园到三味书屋</text>
<text class="t"><tspan x="168" y="2742.3">内容及中心：通过写百草园自由快乐的生活与</tspan><tspan x="168" dy="17.1">三味书屋枯燥无味的生活，表现儿童热爱大自</tspan><tspan x="168" dy="17.1">然，喜欢自由快乐生活的心理，抒发者作对少</tspan><tspan x="168" dy="17.1">年生活的追忆。</tspan></text>
<path class="c" d="M836 3501 H905"/>
<text class="t" x="855" y="3492">结构：</text>
<path class="c" d="M534 2952 H825"/>
<text class="t"><tspan x="551" y="2924.7">一、百草园中自由、快乐、充满无限趣味的生</tspan><tspan x="551" dy="16.5">活</tspan></text>
<path class="c" d="M311 2861.5 H523"/><text class="t e" x="508" y="2853">1.总写百草园是"我"儿时的乐园。</text>
<path class="c" d="M296 2921 H523"/><text class="t e" x="508" y="2912">2.百草园的景物和童年生活的情趣。</text>
<path class="c" d="M323 2980 H523"/><text class="t e" x="508" y="2971">3.百草园中关于美女蛇的故事。</text>
<path class="c" d="M310 3038.5 H523"/><text class="t e" x="508" y="3029">4.百草园冬天的乐趣：雪天捕鸟。</text>
<path class="c" d="M614 3161 H825"/>
<text class="t" x="632" y="3152">二、三味书屋里单调乏味的生活</text>
<path class="c" d="M442 3098 H603"/><text class="t" x="449" y="3088">1.三味书屋的单调陈设。</text>
<path class="c" d="M442 3224 H603"/><text class="t" x="462" y="3215">2.三味书屋里的生活。</text>
<path class="c" d="M310 3157 H431"/><text class="t" x="319" y="3147.5">他的背影感动了我</text>
<path class="c" d="M150 3232.5 H431"/>
<text class="t"><tspan x="158" y="3205.7">内容中心：我看到一位外地父亲为儿子学习</tspan><tspan x="158" dy="17.1">用品而奔波的背影，我被感动了。我更深刻地理</tspan></text>
<path class="c" d="M325 3292 H431"/><text class="t" x="331" y="3282">解了父母的爱。</text>
<path class="c" d="M759 3573 H825"/>
<text class="t" x="778" y="3563">结构：</text>
<path class="c" d="M467 3402.5 H748"/>
<text class="t"><tspan x="474" y="3340.7">一、放学后，我不顾正等待我回家的父母的感</tspan><tspan x="474" dy="17.1">受，在校门口嬉闹着等同学。（略）（交待事</tspan><tspan x="474" dy="17.1">情的起因，与下文"我走向家的方向"形成对比</tspan><tspan x="474" dy="17.1">，突出中心）</tspan></text>
<path class="c" d="M455 3554 H748"/>
<text class="t"><tspan x="474" y="3509.7">二、我看到一位父亲在夜色朦胧中去给儿子买</tspan><tspan x="474" dy="17.1">文具的背影，有所感动，并联想到自己的父母</tspan><tspan x="474" dy="17.1">。（详）</tspan></text>
<path class="c" d="M160 3478 H444"/>
<text class="t"><tspan x="168" y="3450.7">1.父亲的形象。（略）（语言、动作、外貌描写</tspan><tspan x="168" dy="17.1">）</tspan></text>
<path class="c" d="M160 3554 H444"/>
<text class="t"><tspan x="168" y="3526.7">2.父亲站在街角的背影。（详，点题）（</tspan><tspan x="168" dy="17.1">背影的特写）</tspan></text>
<path class="c" d="M160 3629 H444"/>
<text class="t"><tspan x="168" y="3601.7">3.我想到他的家庭，他为家庭的付出，深受</tspan><tspan x="168" dy="17.1">感动。（点题）（我的心理活动）</tspan></text>
<path class="c" d="M454 3744 H748"/>
<text class="t"><tspan x="474" y="3716.7">三、我想到我的父母，我走向家的方向。（稍</tspan><tspan x="474" dy="17.1">详）</tspan></text>
<path class="c" d="M160 3705.5 H443"/>
<text class="t"><tspan x="168" y="3676.7">1.我由这位父亲的背影想到我自己父母的背影</tspan><tspan x="168" dy="17.1">（三个背影的特写）</tspan></text>
<path class="c" d="M160 3781 H443"/>
<text class="t"><tspan x="168" y="3753.7">2.我要用一颗体谅之心去理解父母，我走向</tspan><tspan x="168" dy="17.1">家的方向。（点题、突出中心）</tspan></text>
<path class="c" d="M705 3841 H825"/><text class="t" x="711" y="3830">我最后悔的一件事</text>
<path class="c" d="M731 3899 H825"/><text class="t" x="744" y="3889">（作文提纲）</text>
<path class="c" d="M400 3991 H825"/><text class="t" x="719" y="3982">（一）内容与中心</text>
<text class="t"><tspan x="408" y="3947.7">我想写小时候打坏邻居家玻璃逃跑并跟妈妈说</tspan><tspan x="408" dy="17.1">谎的一件事，说明自己不诚实，表达了十分后</tspan><tspan x="408" dy="17.1">悔的心情。</tspan></text>
<path class="c" d="M717 4050 H825"/><text class="t" x="733" y="4041">（二）结构安排</text>
<path class="c" d="M663 4270 H905"/>
<text class="t" x="683" y="4261">用倒叙的方法写，全文共分四大段：</text>
<path class="c" d="M372 4126 H652"/>
<text class="t"><tspan x="379" y="4099.2">第一段：写我现在回想起小时候打碎邻居家玻</tspan><tspan x="379" dy="17.1">璃逃跑那件事，心里就十分后悔。（倒叙）</tspan></text>
<path class="c" d="M372 4203 H652"/>
<text class="t"><tspan x="379" y="4174.7">第二段：写我和小伙伴在楼下踢球，玩得很开</tspan><tspan x="379" dy="17.1">心。（事情的起因）</tspan></text>
<path class="c" d="M372 4308 H652"/>
<text class="t"><tspan x="379" y="4263.2">第三段：写我踢球不小心弄坏了邻居家的玻璃</tspan><tspan x="379" dy="17.1">逃跑了。（事情的经过）是重点段，分两小段</tspan><tspan x="379" dy="17.1">：</tspan></text>
<path class="c" d="M372 4413.5 H652"/>
<text class="t"><tspan x="379" y="4386.2">第四段：结果邻居家自己安上了新玻璃。这件</tspan><tspan x="379" dy="17.1">事让我后悔不已，我要道歉。（事情结果）</tspan></text>
<path class="c" d="M80 4280 H361"/>
<text class="t"><tspan x="88" y="4235.3">1.我和小伙伴在楼下踢球，不小心把球踢到邻</tspan><tspan x="88" dy="17.1">居家的玻璃上，</tspan></text>
<path class="c" d="M80 4337 H361"/>
<text class="t"><tspan x="88" y="4310.3">2.我逃跑了，回家后跟妈妈说谎。</tspan></text>
</g>
</g>
</svg>
